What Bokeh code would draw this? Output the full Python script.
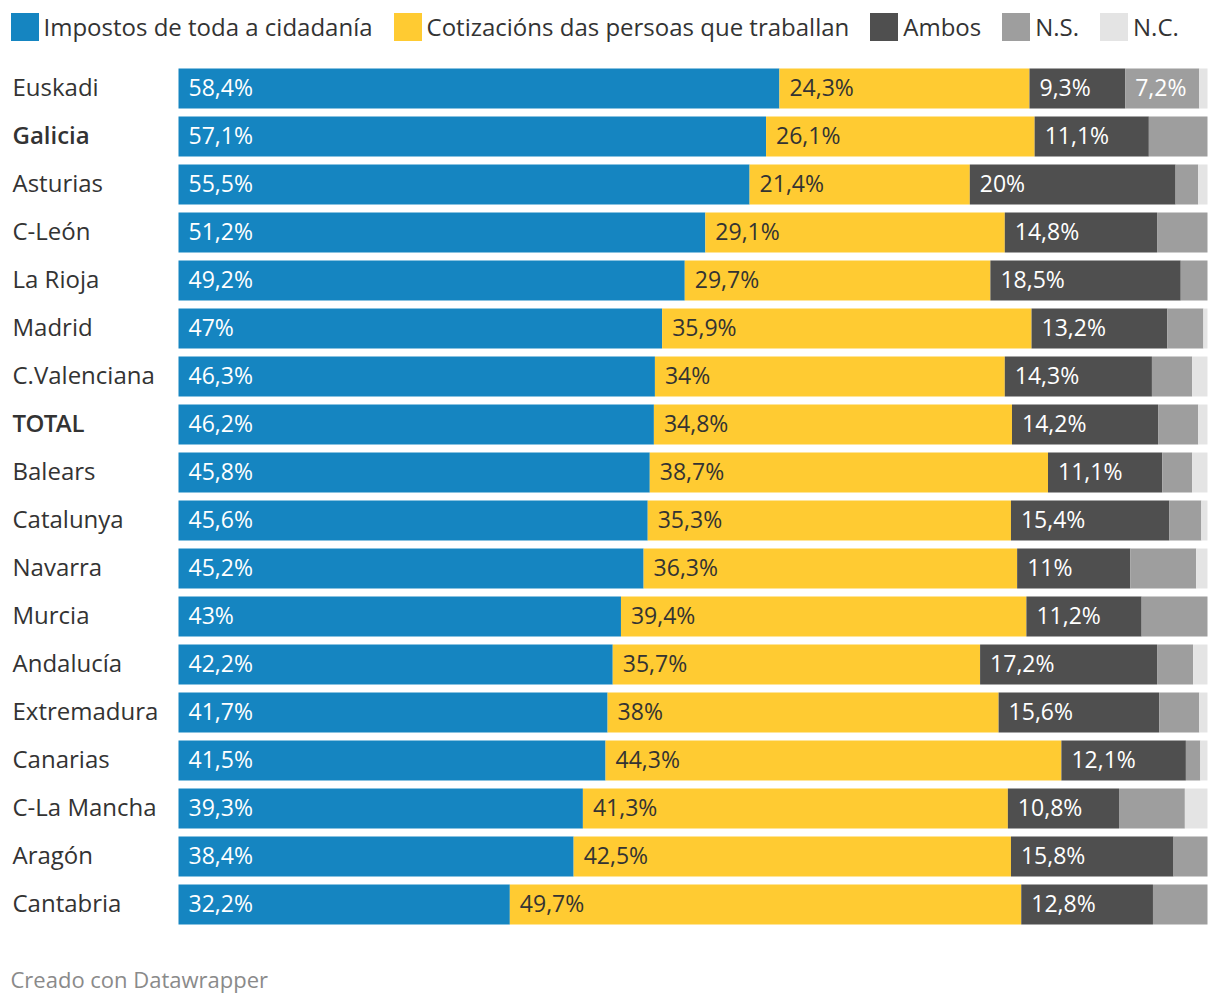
import numpy as np
from bokeh.plotting import figure
from bokeh.models import ColumnDataSource, Range1d, Legend, LegendItem
from bokeh.core.properties import value
from bokeh.embed import file_html
from bokeh.resources import INLINE

# ---------------- data ----------------
regions = ["Euskadi", "Galicia", "Asturias", "C-León", "La Rioja", "Madrid",
           "C.Valenciana", "TOTAL", "Balears", "Catalunya", "Navarra", "Murcia",
           "Andalucía", "Extremadura", "Canarias", "C-La Mancha", "Aragón", "Cantabria"]
bold_regions = ["Galicia", "TOTAL"]

series_names = ["Impostos de toda a cidadanía", "Cotizacións das persoas que traballan",
                "Ambos", "N.S.", "N.C."]
impostos = [58.4, 57.1, 55.5, 51.2, 49.2, 47.0, 46.3, 46.2, 45.8, 45.6, 45.2, 43.0, 42.2, 41.7, 41.5, 39.3, 38.4, 32.2]
cotizacions = [24.3, 26.1, 21.4, 29.1, 29.7, 35.9, 34.0, 34.8, 38.7, 35.3, 36.3, 39.4, 35.7, 38.0, 44.3, 41.3, 42.5, 49.7]
ambos = [9.3, 11.1, 20.0, 14.8, 18.5, 13.2, 14.3, 14.2, 11.1, 15.4, 11.0, 11.2, 17.2, 15.6, 12.1, 10.8, 15.8, 12.8]
ns = [7.2, 5.7, 2.2, 4.9, 2.6, 3.5, 3.9, 3.9, 2.9, 3.1, 6.4, 6.4, 3.5, 3.9, 1.4, 6.4, 3.3, 5.3]
nc = [0.8, 0.0, 0.9, 0.0, 0.0, 0.4, 1.5, 0.9, 1.5, 0.6, 1.1, 0.0, 1.4, 0.8, 0.7, 2.2, 0.0, 0.0]
footer = "Creado con Datawrapper"

# ---------------- styles / layout ----------------
colors = ["#1585c1", "#ffcb32", "#4f4f4f", "#9e9e9e", "#e4e4e4"]
label_colors = ["#ffffff", "#333333", "#ffffff", "#ffffff", "#333333"]
FONT = value("Open Sans")
BOLD_FONT = value("Open Sans SemiBold")
W, H = 1210, 1000
PX_PER_PCT = 10.29          # 100% -> 1029 px
BAR_LEFT_PX = 178           # bar start from figure left edge
ROW_PX = 48
FIRST_ROW_PX = 88           # centre of first row from figure top
FOOTER_PX = 980
TXT_DY = -2                 # small upward nudge for middle-baseline text
XS = -BAR_LEFT_PX / PX_PER_PCT
XE = XS + W / PX_PER_PCT
YT = -FIRST_ROW_PX / ROW_PX
YB = YT + H / ROW_PX
MIN_LABEL = 7.0

def fmt(v):
    s = ("%.1f" % v).rstrip("0").rstrip(".")
    return s.replace(".", ",") + "%"

p = figure(width=W, height=H, x_range=Range1d(XS, XE), y_range=Range1d(YB, YT),
           output_backend="svg", toolbar_location=None, min_border=0,
           x_axis_location=None, y_axis_location=None)
p.grid.visible = False
p.outline_line_color = None
p.background_fill_color = "#ffffff"

ypos = np.arange(len(regions))
all_vals = np.array([impostos, cotizacions, ambos, ns, nc])
lefts = np.vstack([np.zeros(len(regions)), np.cumsum(all_vals, axis=0)[:-1]])

renderers = []
for k, name in enumerate(series_names):
    src = ColumnDataSource(dict(y=ypos, left=lefts[k], right=lefts[k] + all_vals[k]))
    r = p.hbar(y="y", left="left", right="right", height=40 / ROW_PX, source=src,
               fill_color=colors[k], line_color=None)
    renderers.append(r)
    show = all_vals[k] >= MIN_LABEL
    lsrc = ColumnDataSource(dict(x=lefts[k][show], y=ypos[show],
                                 t=[fmt(v) for v in all_vals[k][show]]))
    p.text(x="x", y="y", text="t", source=lsrc, x_offset=10, y_offset=TXT_DY,
           text_align="left", text_baseline="middle", text_font=FONT,
           text_font_size="23px", text_color=label_colors[k])

# row labels (regular and semibold)
is_bold = np.array([r in bold_regions for r in regions])
names = np.array(regions)
for mask, fnt in [(~is_bold, FONT), (is_bold, BOLD_FONT)]:
    rsrc = ColumnDataSource(dict(x=[XS] * int(mask.sum()), y=ypos[mask], t=list(names[mask])))
    p.text(x="x", y="y", text="t", source=rsrc, x_offset=12, y_offset=TXT_DY,
           text_align="left", text_baseline="middle", text_font=fnt,
           text_font_size="24px", text_color="#333333")

# footer
fsrc = ColumnDataSource(dict(x=[XS], y=[(FOOTER_PX - FIRST_ROW_PX) / ROW_PX], t=[footer]))
p.text(x="x", y="y", text="t", source=fsrc, x_offset=10, y_offset=TXT_DY,
       text_align="left", text_baseline="middle", text_font=FONT,
       text_font_size="22px", text_color="#8a8a8a")

GL = 35  # legend glyph box (Bokeh insets the swatch by 10% per side -> 28px swatch)
legend = Legend(items=[LegendItem(label=n, renderers=[r]) for n, r in zip(series_names, renderers)],
                orientation="horizontal", location=(6.5, H - 8.5 - GL),
                glyph_width=GL, glyph_height=GL, label_standoff=2, spacing=17,
                padding=0, margin=0, label_height=GL,
                label_text_font="Open Sans", label_text_font_size="24px",
                label_text_color="#333333", background_fill_alpha=0,
                border_line_alpha=0)
p.add_layout(legend)

open("out.html", "w").write(file_html(p, INLINE))
